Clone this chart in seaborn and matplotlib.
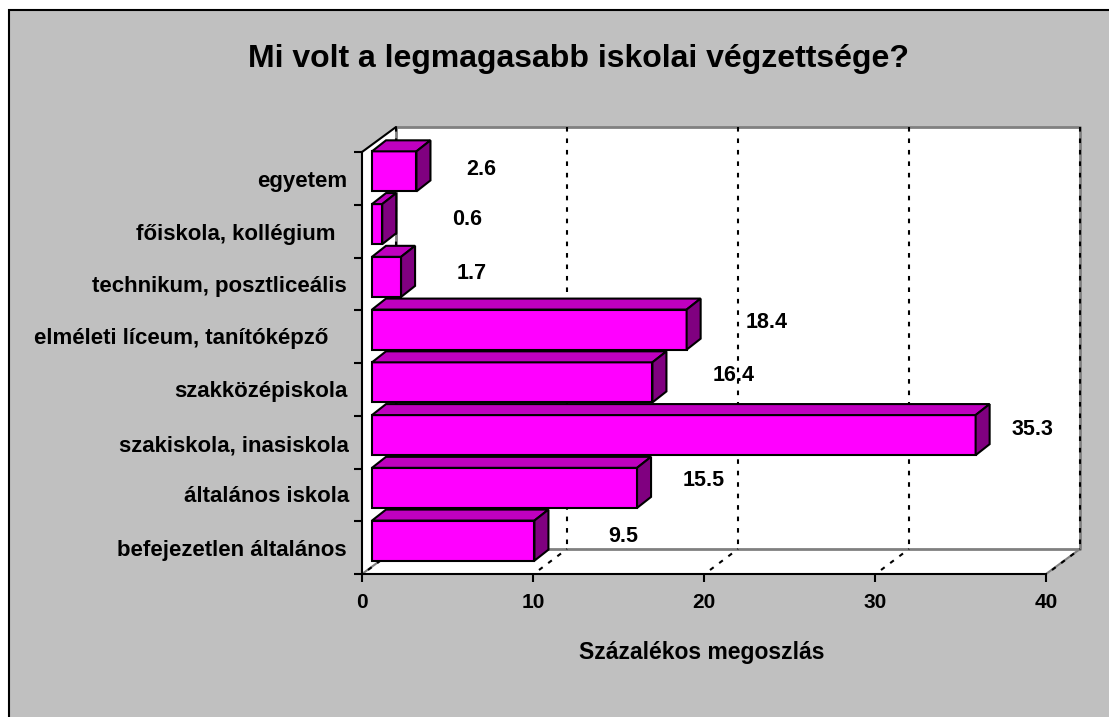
import numpy as np
import pandas as pd
import seaborn as sns
from matplotlib import pyplot as plt
from matplotlib.patches import Polygon, Rectangle
from matplotlib.transforms import Affine2D, IdentityTransform

categories = ["egyetem", "főiskola, kollégium", "technikum, posztliceális",
              "elméleti líceum, tanítóképző", "szakközépiskola",
              "szakiskola, inasiskola", "általános iskola", "befejezetlen általános"]
values = [2.6, 0.6, 1.7, 18.4, 16.4, 35.3, 15.5, 9.5]
value_labels = ["2.6", "0.6", "1.7", "18.4", "16.4", "35.3", "15.5", "9.5"]
x_ticks = [0, 10, 20, 30, 40]

# layout only, in pixels: offset of value label from bar, right end and shift of the category label
label_gap = [65, 85, 71, 80, 81, 57, 67, 89]
label_rise = [2, 5, 3, 7, 7, 6, 7, 4]
cat_right = [347, 336, 347, 328, 348, 349, 349, 347]
cat_drop = [1, 1, 0, -1, 0, 1, -1, 0]

W, H = 1109, 717
GRAY = "#c0c0c0"
EDGE = "#808080"
FRONT, TOP, SIDE = "#ff00ff", "#bf00bf", "#800080"
DASH = (0, (2.2, 3.3))
PX = IdentityTransform()

sns.set_theme(style="white")
plt.rcParams["font.family"] = ["Liberation Sans", "DejaVu Sans"]
plt.rcParams["font.weight"] = "bold"

fig = plt.figure(figsize=(W / 100, H / 100), dpi=100, facecolor="white")
fig.patches.append(Rectangle((9 / W, -0.02), 1.02, 1.02 - 10 / H, transform=fig.transFigure,
                             facecolor=GRAY, edgecolor="black", linewidth=1.5, zorder=-1))

ax = fig.add_axes([362 / W, 1 - 574 / H, 684 / W, 422 / H], facecolor="none")
df = pd.DataFrame({"category": categories, "value": values})
sns.barplot(df, x="value", y="category", order=categories, color=FRONT, saturation=1,
            width=0.76, ax=ax, edgecolor="black", linewidth=1.5, zorder=5)
ax.set_xlim(0, 40)
ax.set_ylim(7.5, -0.5)
bars = list(ax.patches)


def shifted(dx, dy):
    return ax.transData + Affine2D().translate(dx, dy)


def depth_poly(a, b, dx, dy):
    return np.array([a, a + (dx, dy), b + (dx, dy), b])


# back wall, left wall and floor
wall = shifted(34, 25)
ax.add_patch(Rectangle((0, -0.5), 40, 8, transform=wall, facecolor="white", edgecolor="none",
                       zorder=1, clip_on=False))
for pts in ([(0, -0.5), (0, 7.5)], [(0, 7.5), (40, 7.5)]):
    a, b = ax.transData.transform(pts)
    ax.add_patch(Polygon(depth_poly(a, b, 34, 25), transform=PX, facecolor="white",
                         edgecolor="none", zorder=1, clip_on=False))
ax.plot([0, 0, 40, 40, 0], [-0.5, 7.5, 7.5, -0.5, -0.5], transform=wall, color=EDGE, lw=2, zorder=2, clip_on=False)

# gridlines on wall and floor
for t in x_ticks:
    a = ax.transData.transform((t, 7.5))
    if t in (0, 40):
        ax.plot([a[0], a[0] + 34], [a[1], a[1] + 25], transform=PX, color=EDGE, lw=1.5, zorder=2, clip_on=False)
    ax.plot([t, t], [-0.5, 7.5], transform=wall, color="black", lw=1.5, ls=DASH, zorder=3, clip_on=False)
    ax.plot([a[0] + 6, a[0] + 34], [a[1] + 4, a[1] + 25], transform=PX, color="black", lw=1.5, ls=DASH, zorder=3,
            clip_on=False)
a = ax.transData.transform((0, -0.5))
ax.plot([a[0], a[0] + 34], [a[1], a[1] + 25], transform=PX, color="black", lw=1.5, zorder=3, clip_on=False)

# move the bars into their plane and add the depth faces
plane = shifted(10, 7)
d = (14, 11)
for patch, val, lab, gap, rise in zip(bars, values, value_labels, label_gap, label_rise):
    x1, y0, y1 = patch.get_width(), patch.get_y(), patch.get_y() + patch.get_height()
    patch.set_transform(plane)
    patch.set_clip_on(False)
    (xl, ytop), (xr, ybot) = plane.transform([(0, y0), (x1, y1)])
    ax.add_patch(Polygon(depth_poly(np.array((xl, ytop)), np.array((xr, ytop)), *d), transform=PX,
                         facecolor=TOP, edgecolor="black", linewidth=1.5, zorder=5, clip_on=False))
    ax.add_patch(Polygon(depth_poly(np.array((xr, ytop)), np.array((xr, ybot)), *d), transform=PX,
                         facecolor=SIDE, edgecolor="black", linewidth=1.5, zorder=5, clip_on=False))
    ax.annotate(lab, xy=(val, (y0 + y1) / 2), xycoords=plane, xytext=(gap * 0.72, rise * 0.72),
                textcoords="offset points", ha="center", va="center", fontsize=15.5, fontweight="bold",
                color="black", zorder=6)

for s in ("top", "right"):
    ax.spines[s].set_visible(False)
for s in ("left", "bottom"):
    ax.spines[s].set_color("black")
    ax.spines[s].set_linewidth(1.5)
    ax.spines[s].set_zorder(4)

ax.set_xticks(x_ticks)
ax.tick_params(axis="x", length=6, width=1.5, color="black", bottom=True, labelsize=15, pad=8, labelcolor="black")
ax.set_yticks(np.arange(-0.5, 8, 1), minor=True)
ax.tick_params(axis="y", which="minor", left=True, length=6, width=1.5, color="black")
ax.tick_params(axis="y", which="major", left=False, length=0, labelsize=16, labelcolor="black")
for tick, right, drop in zip(ax.yaxis.get_major_ticks(), cat_right, cat_drop):
    tick.set_pad((362 - right) * 0.72)
    tick.label1.set_transform(tick.label1.get_transform() + Affine2D().translate(0, -drop))
ax.set_ylabel("")
ax.set_xlabel("Százalékos megoszlás", fontsize=16.5, fontweight="bold", color="black")
ax.xaxis.set_label_coords((702 - 362) / 684, -(652 - 574) / 422, transform=ax.transAxes)
ax.xaxis.label.set_verticalalignment("center")

fig.text(578 / W, 1 - 59 / H, "Mi volt a legmagasabb iskolai végzettsége?", ha="center", va="center",
         fontsize=23, fontweight="bold", color="black")
fig.savefig("out.png", dpi=100)
